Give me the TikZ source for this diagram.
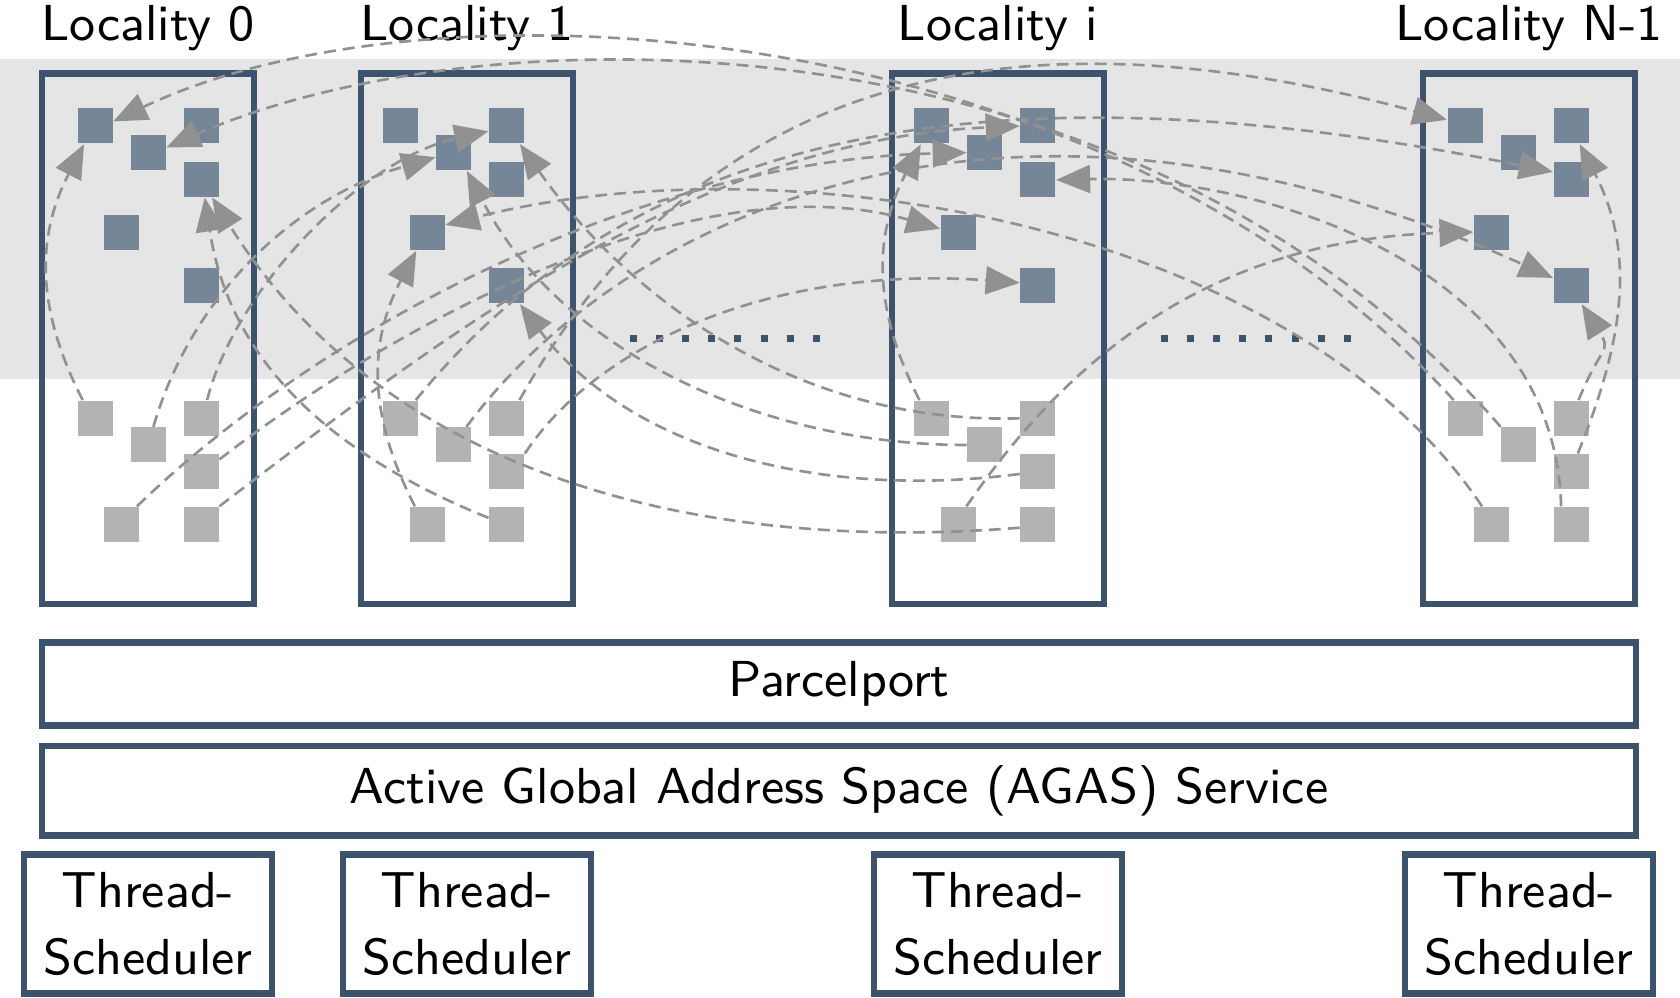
\documentclass[tikz,border=0pt]{standalone}
\usepackage{fontspec}
\setsansfont{lmsans9-regular.otf}
\usepackage{tikz}
\usetikzlibrary{arrows.meta}

\definecolor{hpxblue}{RGB}{61,83,109}
\definecolor{taskblue}{RGB}{117,134,153}
\definecolor{idlegray}{RGB}{179,179,179}
\definecolor{bandgray}{RGB}{229,229,229}
\definecolor{flowgray}{RGB}{145,145,145}

\begin{document}
\begin{tikzpicture}[x=0.1mm, y=-0.1mm,
    font=\sffamily\fontsize{14.4}{18.8}\selectfont,
    locbox/.style={draw=hpxblue, line width=0.65mm, inner sep=0,
      minimum width=21.2mm, minimum height=53.07mm},
    layerbox/.style={draw=hpxblue, line width=0.65mm, inner sep=0,
      minimum width=159.4mm},
    schedbox/.style={draw=hpxblue, line width=0.65mm, inner sep=0,
      minimum width=24.8mm, minimum height=13.9mm, align=center},
    task/.style={fill=taskblue, minimum size=3.5mm, inner sep=0},
    idle/.style={fill=idlegray, minimum size=3.5mm, inner sep=0},
    flow/.style={draw=flowgray, line width=0.75pt,
      dash pattern=on 1.2mm off 0.7mm,
      -{Triangle[length=3.4mm, width=2.8mm]}}]
  \useasboundingbox (0,0) rectangle (1680,998);
  % band of running tasks
  \fill[bandgray] (0,59) rectangle (1680,379);
  % localities
  \foreach \n/\cx/\lab in {0/148/Locality 0, 1/467/Locality 1,
      i/997.8/Locality i, n/1529/Locality N-1} {
    \node[locbox] (loc\n) at (\cx,338.65) {};
    \node[anchor=base] (lab\n) at (\cx,41) {\lab};
    \node[schedbox] (ts\n) at (\cx,924) {Thread-\\Scheduler};
  }
  % threads: blue = running, gray = suspended
  \foreach \n/\x in {0/95, 1/400.5, i/931.7, n/1465} {
    \node[task] (b\n a) at (\x,126) {};
    \node[task] (b\n b) at (\x+106.2,126) {};
    \node[task] (b\n c) at (\x+53.2,152.7) {};
    \node[task] (b\n d) at (\x+106.2,179.3) {};
    \node[task] (b\n e) at (\x+26.7,232.7) {};
    \node[task] (b\n f) at (\x+106.2,286) {};
    \node[idle] (g\n a) at (\x,418.3) {};
    \node[idle] (g\n b) at (\x+106.2,418.3) {};
    \node[idle] (g\n c) at (\x+53.2,445) {};
    \node[idle] (g\n d) at (\x+106.2,471.7) {};
    \node[idle] (g\n e) at (\x+26.7,524.5) {};
    \node[idle] (g\n f) at (\x+106.2,524.5) {};
  }
  % dots between localities
  \draw[hpxblue, line width=0.7mm, dash pattern=on 0.7mm off 1.91mm]
    (630,338.5) -- (820,338.5);
  \draw[hpxblue, line width=0.7mm, dash pattern=on 0.7mm off 1.91mm]
    (1161,338.5) -- (1351.5,338.5);
  % loops inside one locality
  \draw[flow] (g0a.124) .. controls (36,309) and (36,237) .. (b0a.239);
  \draw[flow] (gia.124) .. controls (873,309) and (873,237) .. (bia.239);
  \draw[flow] (g1e.124) .. controls (368,416) and (368,343) .. (b1e.239);
  \draw[flow] (gnd.70) .. controls (1624,340) and (1636,253) .. (bnb.295);
  \draw[flow] (gnb.68) .. controls (1601,345) and (1612,352) .. (bnf.300);
  % to locality 0
  \draw[flow] (g1f.160) .. controls (333,455) and (230,363) .. (b0d.281);
  \draw[flow] (gif.190) .. controls (680,555) and (380,465) .. (b0d.301);
  \draw[flow] (gna.122) .. controls (1100,10) and (430,-30) .. (b0a.14);
  \draw[flow] (gnc.134) .. controls (1130,0) and (480,10) .. (b0c.16);
  % to locality 1
  \draw[flow] (g0b.72) .. controls (235,290) and (360,160) .. (b1b.196);
  \draw[flow] (g0c.74) .. controls (190,300) and (290,200) .. (b1c.194);
  \draw[flow] (gib.180) .. controls (800,425) and (630,300) .. (b1b.306);
  \draw[flow] (gic.180) .. controls (760,445) and (560,350) .. (b1c.306);
  \draw[flow] (gid.187) .. controls (820,500) and (630,450) .. (b1f.306);
  \draw[flow] (gne.118) .. controls (1290,220) and (780,140) .. (b1e.23);
  % to locality i
  \draw[flow] (g0d.34) .. controls (400,320) and (700,160) .. (bie.168);
  \draw[flow] (g0e.50) .. controls (330,320) and (650,160) .. (bic.180);
  \draw[flow] (g0f.45) .. controls (450,330) and (700,140) .. (bib.180);
  \draw[flow] (g1d.45) .. controls (600,340) and (780,265) .. (bif.170);
  \draw[flow] (gnf.119) .. controls (1555,260) and (1250,175) .. (bid.358);
  % to locality N-1
  \draw[flow] (g1a.50) .. controls (620,150) and (950,50) .. (bnd.158);
  \draw[flow] (g1b.55) .. controls (700,80) and (1000,0) .. (bna.161);
  \draw[flow] (g1c.55) .. controls (620,220) and (1000,30) .. (bnf.156);
  \draw[flow] (gie.66) .. controls (1060,370) and (1200,240) .. (bne.178);
  % services
  \node[layerbox, minimum height=8.3mm] (pp) at (839,684.2) {Parcelport};
  \node[layerbox, minimum height=8.95mm] (agas) at (839,790.75)
    {Active Global Address Space (AGAS) Service};
\end{tikzpicture}
\end{document}
